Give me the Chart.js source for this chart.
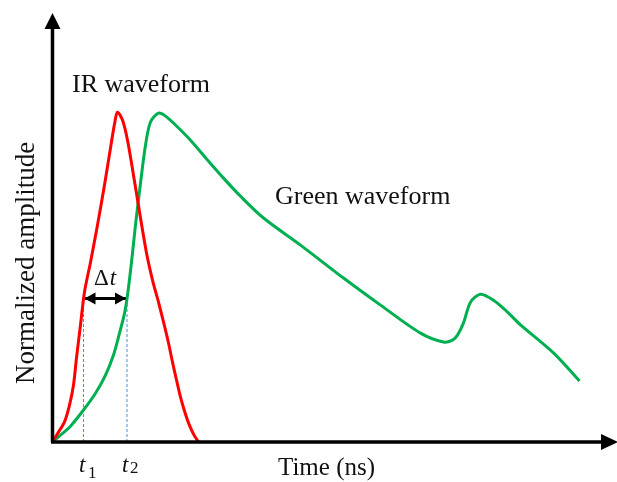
<!DOCTYPE html>
<html>
<head>
<meta charset="utf-8">
<script src="https://cdn.jsdelivr.net/npm/chart.js@4.4.0/dist/chart.umd.min.js"></script>
<style>
  body { margin: 0; background: #fff; }
  #wrap { width: 617px; height: 482px; }
</style>
</head>
<body>
<div id="wrap"><canvas id="myChart" width="617" height="482"></canvas></div>
<script>
// IR waveform (red)
var irTime = [0, 0.06, 0.12, 0.17, 0.21, 0.24, 0.28, 0.32, 0.38, 0.45, 0.52, 0.58, 0.62, 0.65, 0.70, 0.75, 0.81, 0.88, 0.94, 1.00, 1.06, 1.11, 1.16, 1.20, 1.24, 1.28, 1.32, 1.36, 1.41, 1.46];
var irAmp  = [0, 0.03, 0.061, 0.112, 0.173, 0.255, 0.355, 0.455, 0.545, 0.658, 0.779, 0.891, 0.964, 1.0, 0.976, 0.915, 0.809, 0.679, 0.573, 0.491, 0.424, 0.364, 0.3, 0.242, 0.188, 0.136, 0.094, 0.058, 0.024, 0];

// Green waveform
var greenTime = [0, 0.08, 0.18, 0.31, 0.43, 0.53, 0.61, 0.67, 0.72, 0.75, 0.79, 0.83, 0.88, 0.93, 0.98, 1.06, 1.13, 1.23, 1.38, 1.55, 1.71, 1.88, 2.11, 2.48, 2.91, 3.28, 3.68, 3.91, 4.00, 4.05, 4.11, 4.18, 4.28, 4.41, 4.55, 4.68, 5.01, 5.27];
var greenAmp  = [0, 0.021, 0.048, 0.097, 0.148, 0.203, 0.264, 0.33, 0.39, 0.445, 0.545, 0.658, 0.785, 0.9, 0.97, 0.997, 0.988, 0.961, 0.915, 0.855, 0.8, 0.745, 0.679, 0.597, 0.497, 0.415, 0.33, 0.303, 0.309, 0.324, 0.361, 0.424, 0.448, 0.43, 0.394, 0.355, 0.27, 0.185];

// markers
var t1 = 0.31;
var t2 = 0.745;
var deltaLevel = 0.435;

function toPts(xs, ys) {
    var out = [];
    for (var i = 0; i < xs.length; i++) out.push({x: xs[i], y: ys[i]});
    return out;
}

var serif = '"Liberation Serif", "Times New Roman", serif';

var drawExtras = {
    id: 'drawExtras',
    afterDatasetsDraw: function (chart) {
        var ctx = chart.ctx;
        var xs = chart.scales.x, ys = chart.scales.y;
        var x0 = xs.getPixelForValue(0), y0 = ys.getPixelForValue(0);
        ctx.save();

        // axes with arrows
        ctx.strokeStyle = '#000';
        ctx.fillStyle = '#000';
        ctx.lineWidth = 3.5;
        ctx.beginPath();
        ctx.moveTo(x0, y0);
        ctx.lineTo(x0, 26);
        ctx.moveTo(x0 - 1.5, y0);
        ctx.lineTo(603, y0);
        ctx.stroke();
        ctx.beginPath();
        ctx.moveTo(x0, 13);
        ctx.lineTo(x0 - 8, 29);
        ctx.lineTo(x0 + 8, 29);
        ctx.closePath();
        ctx.fill();
        ctx.beginPath();
        ctx.moveTo(618, y0);
        ctx.lineTo(601, y0 - 8);
        ctx.lineTo(601, y0 + 8);
        ctx.closePath();
        ctx.fill();

        // delta t arrow heads
        var xa = xs.getPixelForValue(t1) + 1, xb = xs.getPixelForValue(t2) - 1;
        var ya = ys.getPixelForValue(deltaLevel);
        ctx.beginPath();
        ctx.moveTo(xa, ya);
        ctx.lineTo(xa + 11, ya - 6);
        ctx.lineTo(xa + 11, ya + 6);
        ctx.closePath();
        ctx.fill();
        ctx.beginPath();
        ctx.moveTo(xb, ya);
        ctx.lineTo(xb - 11, ya - 6);
        ctx.lineTo(xb - 11, ya + 6);
        ctx.closePath();
        ctx.fill();

        // texts
        ctx.fillStyle = '#111';
        ctx.textBaseline = 'alphabetic';
        ctx.textAlign = 'left';
        ctx.font = '26px ' + serif;
        ctx.fillText('IR waveform', 72, 92);
        ctx.fillText('Green waveform', 275, 204);
        ctx.font = '25px ' + serif;
        ctx.fillText('Time (ns)', 278, 475);

        ctx.save();
        ctx.translate(34, 384);
        ctx.rotate(-Math.PI / 2);
        ctx.font = '27px ' + serif;
        ctx.fillText('Normalized amplitude', 0, 0);
        ctx.restore();

        // delta t label
        ctx.font = '23px ' + serif;
        ctx.fillText('\u0394', 94, 285);
        var dw = ctx.measureText('\u0394').width;
        ctx.font = 'italic 23px ' + serif;
        ctx.fillText('t', 94 + dw + 1, 285);

        // t1, t2
        ctx.font = 'italic 23px ' + serif;
        ctx.fillText('t', 79, 472);
        ctx.fillText('t', 122, 472);
        ctx.font = '17px ' + serif;
        ctx.fillText('1', 88, 478);
        ctx.fillText('2', 130, 473);

        ctx.restore();
    }
};

var ctx = document.getElementById('myChart').getContext('2d');
var myChart = new Chart(ctx, {
    type: 'scatter',
    data: {
        datasets: [{
            label: 'IR waveform',
            data: toPts(irTime, irAmp),
            showLine: true,
            borderColor: '#ff0000',
            borderWidth: 3,
            pointRadius: 0,
            tension: 0.3,
            clip: false
        }, {
            label: 'Green waveform',
            data: toPts(greenTime, greenAmp),
            showLine: true,
            borderColor: '#00b050',
            borderWidth: 3,
            pointRadius: 0,
            tension: 0.3,
            clip: false
        }, {
            label: 't1',
            data: [{x: t1, y: 0}, {x: t1, y: deltaLevel}],
            showLine: true,
            borderColor: '#4f8fd0',
            borderWidth: 1,
            borderDash: [3, 2],
            pointRadius: 0
        }, {
            label: 't2',
            data: [{x: t2, y: 0}, {x: t2, y: deltaLevel}],
            showLine: true,
            borderColor: '#4f8fd0',
            borderWidth: 1,
            borderDash: [3, 2],
            pointRadius: 0
        }, {
            label: 'dt',
            data: [{x: t1, y: deltaLevel}, {x: t2, y: deltaLevel}],
            showLine: true,
            borderColor: '#000',
            borderWidth: 3,
            pointRadius: 0
        }]
    },
    options: {
        responsive: false,
        animation: false,
        layout: { padding: { left: 52.5, right: 0, top: 0, bottom: 40 } },
        plugins: { legend: { display: false }, tooltip: { enabled: false } },
        scales: {
            x: { type: 'linear', min: 0, max: 5.645, display: false },
            y: { type: 'linear', min: 0, max: 1.34, display: false }
        }
    },
    plugins: [drawExtras]
});
</script>
</body>
</html>
